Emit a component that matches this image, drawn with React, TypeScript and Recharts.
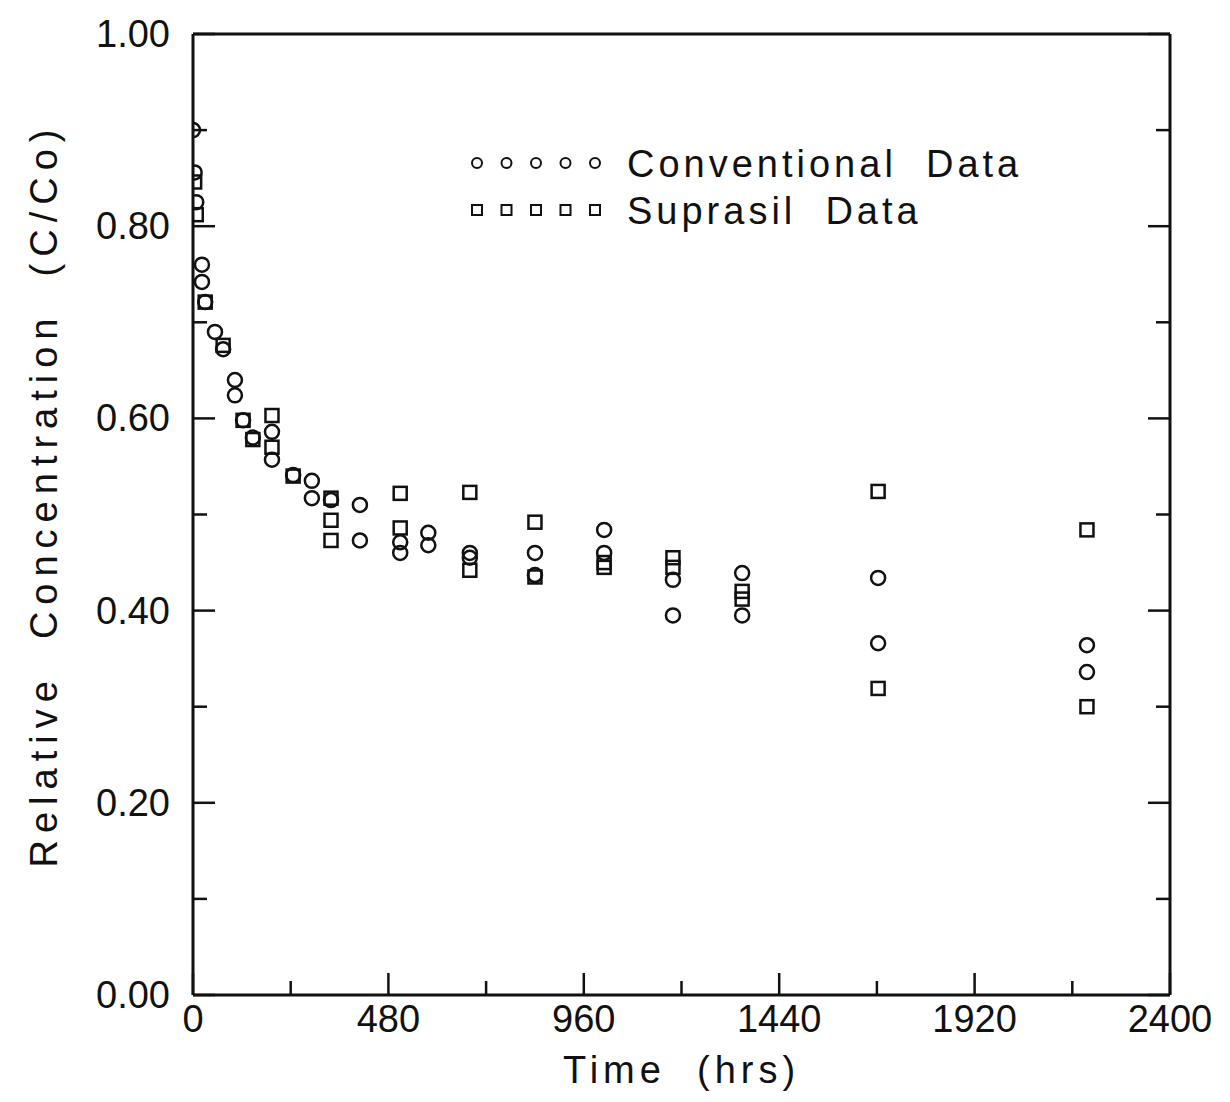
import { ScatterChart, Scatter, XAxis, YAxis, Legend } from 'recharts';

// conventional quartz cell (circles)
const CONV_HOURS = [0, 4, 8, 22, 22, 30, 54, 74, 103, 103, 123, 147, 194, 194, 246, 292, 292, 339, 410, 410, 509, 509, 578, 578, 680, 680, 840, 840, 1010, 1010, 1179, 1179, 1349, 1349, 1683, 1683, 2196, 2196];
const CONV_VALUES = [0.90, 0.856, 0.825, 0.760, 0.742, 0.721, 0.690, 0.672, 0.640, 0.624, 0.598, 0.580, 0.586, 0.557, 0.541, 0.535, 0.517, 0.515, 0.510, 0.473, 0.471, 0.460, 0.481, 0.468, 0.460, 0.455, 0.460, 0.437, 0.484, 0.460, 0.432, 0.395, 0.439, 0.395, 0.434, 0.366, 0.364, 0.336];

// suprasil cell (squares)
const SUPRA_HOURS = [4, 8, 30, 74, 123, 147, 194, 194, 246, 339, 339, 339, 509, 509, 680, 680, 840, 840, 1010, 1010, 1179, 1179, 1349, 1349, 1683, 1683, 2196, 2196];
const SUPRA_VALUES = [0.846, 0.812, 0.721, 0.676, 0.598, 0.578, 0.603, 0.570, 0.540, 0.517, 0.494, 0.473, 0.522, 0.486, 0.523, 0.442, 0.492, 0.435, 0.450, 0.445, 0.455, 0.445, 0.420, 0.412, 0.524, 0.319, 0.484, 0.300];

const X_TICKS = [0, 240, 480, 720, 960, 1200, 1440, 1680, 1920, 2160, 2400];
const X_LABELS = [0, 480, 960, 1440, 1920, 2400];
const Y_TICKS = [0, 0.1, 0.2, 0.3, 0.4, 0.5, 0.6, 0.7, 0.8, 0.9, 1.0];
const Y_LABELS = [0, 0.2, 0.4, 0.6, 0.8, 1.0];

const conventional = CONV_HOURS.map((t, i) => ({ t, c: CONV_VALUES[i] }));
const suprasil = SUPRA_HOURS.map((t, i) => ({ t, c: SUPRA_VALUES[i] }));

const FONT = "'Liberation Sans', Arial, sans-serif";
const INK = '#111';
const PLOT = { left: 193, right: 1170, top: 34, bottom: 995 };
const MAJOR = 22;
const MINOR = 14;

const isLabel = (list: number[], v: number) => list.some((l) => Math.abs(l - v) < 1e-6);

const BottomTick = ({ x, payload }: any) => {
  const major = isLabel(X_LABELS, payload.value);
  return (
    <g>
      <line x1={x} x2={x} y1={PLOT.bottom} y2={PLOT.bottom - (major ? MAJOR : MINOR)} stroke={INK} strokeWidth={2.5} />
      {major && (
        <text x={x} y={1032} textAnchor="middle" fontFamily={FONT} fontSize={38} fill={INK}>
          {payload.value}
        </text>
      )}
    </g>
  );
};

const TopTick = ({ x, payload }: any) => {
  const major = isLabel(X_LABELS, payload.value);
  return <line x1={x} x2={x} y1={PLOT.top} y2={PLOT.top + (major ? MAJOR : MINOR)} stroke={INK} strokeWidth={2.5} />;
};

const LeftTick = ({ y, payload }: any) => {
  const major = isLabel(Y_LABELS, payload.value);
  return (
    <g>
      <line x1={PLOT.left} x2={PLOT.left + (major ? MAJOR : MINOR)} y1={y} y2={y} stroke={INK} strokeWidth={2.5} />
      {major && (
        <text x={170} y={y + 13} textAnchor="end" fontFamily={FONT} fontSize={38} fill={INK}>
          {payload.value.toFixed(2)}
        </text>
      )}
    </g>
  );
};

const RightTick = ({ y, payload }: any) => {
  const major = isLabel(Y_LABELS, payload.value);
  return <line x1={PLOT.right} x2={PLOT.right - (major ? MAJOR : MINOR)} y1={y} y2={y} stroke={INK} strokeWidth={2.5} />;
};

const OpenCircle = (props: any) => (
  <circle cx={props.cx} cy={props.cy} r={7} fill="none" stroke={INK} strokeWidth={2.5} />
);

const OpenSquare = (props: any) => (
  <rect x={props.cx - 6.5} y={props.cy - 6.5} width={13} height={13} fill="none" stroke={INK} strokeWidth={2.5} />
);

const XTitle = () => (
  <text
    x={(PLOT.left + PLOT.right) / 2}
    y={1083}
    textAnchor="middle"
    fontFamily={FONT}
    fontSize={38}
    fill={INK}
    letterSpacing={5}
    style={{ whiteSpace: 'pre' }}
  >
    {'Time  (hrs)'}
  </text>
);

const YTitle = () => (
  <text
    x={57}
    y={495}
    transform="rotate(-90 57 495)"
    textAnchor="middle"
    fontFamily={FONT}
    fontSize={38}
    fill={INK}
    letterSpacing={7}
    style={{ whiteSpace: 'pre' }}
  >
    {'Relative  Concentration  (C/Co)'}
  </text>
);

const LegendBox = () => {
  const marks = [0, 1, 2, 3, 4];
  return (
    <svg width={620} height={110} style={{ overflow: 'visible' }}>
      {marks.map((i) => (
        <circle key={'c' + i} cx={17 + i * 29.5} cy={28} r={5} fill="none" stroke={INK} strokeWidth={2} />
      ))}
      {marks.map((i) => (
        <rect key={'s' + i} x={12 + i * 29.5} y={70} width={10} height={10} fill="none" stroke={INK} strokeWidth={2} />
      ))}
      <text x={167} y={42} fontFamily={FONT} fontSize={38} fill={INK} letterSpacing={4} style={{ whiteSpace: 'pre' }}>
        {'Conventional  Data'}
      </text>
      <text x={167} y={89} fontFamily={FONT} fontSize={38} fill={INK} letterSpacing={4} style={{ whiteSpace: 'pre' }}>
        {'Suprasil  Data'}
      </text>
    </svg>
  );
};

export default function App() {
  return (
    <div style={{ position: 'absolute', left: 0, top: 0, background: '#fff' }}>
      <ScatterChart width={1230} height={1102} margin={{ top: 33, right: 59, bottom: 47, left: 43 }}>
        <XAxis
          dataKey="t"
          type="number"
          domain={[0, 2400]}
          ticks={X_TICKS}
          interval={0}
          height={60}
          tickLine={false}
          tick={<BottomTick />}
          axisLine={{ stroke: INK, strokeWidth: 3 }}
          allowDataOverflow
          label={(() => <XTitle />) as any}
        />
        <XAxis
          xAxisId="top"
          orientation="top"
          type="number"
          domain={[0, 2400]}
          ticks={X_TICKS}
          interval={0}
          height={1}
          tickLine={false}
          tick={<TopTick />}
          axisLine={{ stroke: INK, strokeWidth: 3 }}
          allowDataOverflow
        />
        <YAxis
          dataKey="c"
          type="number"
          domain={[0, 1]}
          ticks={Y_TICKS}
          interval={0}
          width={150}
          tickLine={false}
          tick={<LeftTick />}
          axisLine={{ stroke: INK, strokeWidth: 3 }}
          allowDataOverflow
          label={(() => <YTitle />) as any}
        />
        <YAxis
          yAxisId="right"
          orientation="right"
          type="number"
          domain={[0, 1]}
          ticks={Y_TICKS}
          interval={0}
          width={1}
          tickLine={false}
          tick={<RightTick />}
          axisLine={{ stroke: INK, strokeWidth: 3 }}
          allowDataOverflow
        />
        <Legend
          layout="horizontal"
          verticalAlign="middle"
          align="center"
          content={<LegendBox />}
          wrapperStyle={{ left: 460, top: 135, width: 620 }}
        />
        <Scatter name="Conventional Data" data={conventional} shape={<OpenCircle />} isAnimationActive={false} />
        <Scatter name="Suprasil Data" data={suprasil} shape={<OpenSquare />} isAnimationActive={false} />
      </ScatterChart>
    </div>
  );
}
